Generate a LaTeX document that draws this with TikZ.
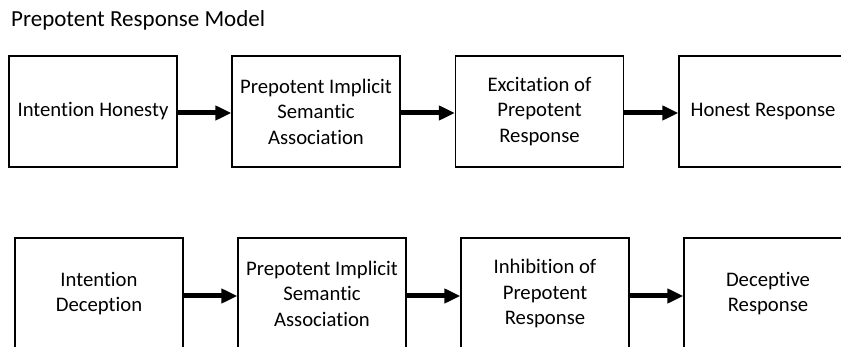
\documentclass[tikz,border=0pt]{standalone}
\usepackage{fontspec}
\setmainfont[Ligatures=NoCommon]{Carlito}
\usetikzlibrary{arrows.meta}
\begin{document}
\begin{tikzpicture}[x=1pt,y=-1pt,
  stagebox/.style={draw=black,line width=1.2pt,minimum width=168pt,minimum height=111pt,
    inner sep=0pt,align=center,font=\fontsize{20.7}{25.5}\selectfont},
  flow/.style={line width=5pt,-{Triangle[length=16pt,width=14pt]}}]
\useasboundingbox (0,0) rectangle (841,347);
\node[anchor=base west,font=\fontsize{23}{28}\selectfont,inner sep=0pt] (title) at (11,27) {Prepotent Response Model};
% top row
\node[stagebox] (a1) at (93,111.5) {Intention Honesty};
\node[stagebox] (a2) at (316,111.5) {Prepotent Implicit\\Semantic\\Association};
\node[stagebox] (a3) at (539.5,111.5) {Excitation of\\Prepotent\\Response};
\node[stagebox] (a4) at (763,111.5) {Honest Response};
\draw[flow] (a1.east) ++(0,1.5) coordinate (a1o) -- (a1o -| a2.west);
\draw[flow] (a2.east) ++(0,1.5) coordinate (a2o) -- (a2o -| a3.west);
\draw[flow] (a3.east) ++(0,1.5) coordinate (a3o) -- (a3o -| a4.west);
% bottom row
\node[stagebox] (b1) at (99,293.5) {Intention\\Deception};
\node[stagebox] (b2) at (322,293.5) {Prepotent Implicit\\Semantic\\Association};
\node[stagebox] (b3) at (545,293.5) {Inhibition of\\Prepotent\\Response};
\node[stagebox] (b4) at (768,293.5) {Deceptive\\Response};
\draw[flow] (b1.east) ++(0,2.5) coordinate (b1o) -- (b1o -| b2.west);
\draw[flow] (b2.east) ++(0,2.5) coordinate (b2o) -- (b2o -| b3.west);
\draw[flow] (b3.east) ++(0,2.5) coordinate (b3o) -- (b3o -| b4.west);
\end{tikzpicture}
\end{document}
